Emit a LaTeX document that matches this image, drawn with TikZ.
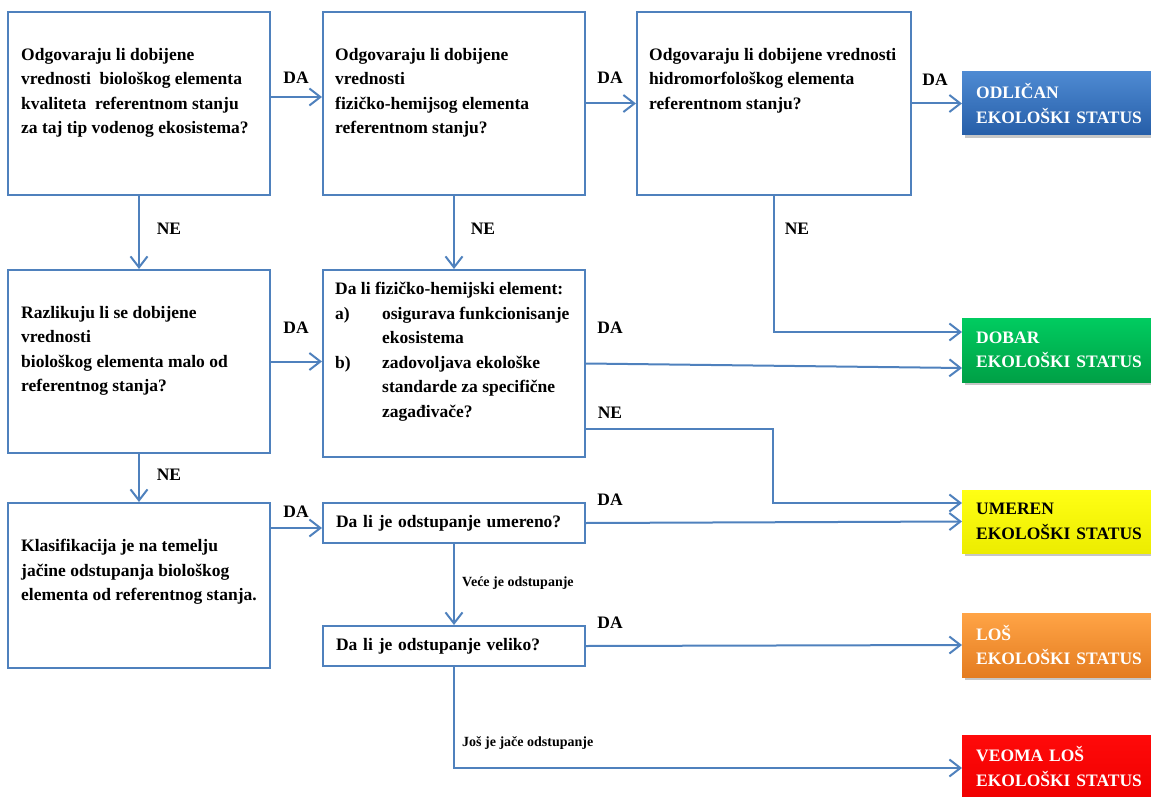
\documentclass[tikz,border=0pt]{standalone}
\usepackage{fontspec}
\setmainfont{Liberation Serif}
\usepackage{tikz}
\usetikzlibrary{arrows.meta, positioning, shadows, calc}
\definecolor{flowblue}{RGB}{79,129,189}
\definecolor{odltop}{RGB}{78,138,210}
\definecolor{odlbot}{RGB}{38,94,168}
\definecolor{dobtop}{RGB}{0,204,96}
\definecolor{dobbot}{RGB}{0,160,70}
\definecolor{umetop}{RGB}{255,255,20}
\definecolor{umebot}{RGB}{236,236,0}
\definecolor{lostop}{RGB}{255,164,70}
\definecolor{losbot}{RGB}{228,124,32}
\definecolor{veotop}{RGB}{255,10,10}
\definecolor{veobot}{RGB}{240,0,0}
\newcommand{\flowfont}{\fontsize{17.5}{24.5}\selectfont\bfseries}
\newcommand{\smallflow}{\fontsize{14}{17}\selectfont\bfseries}

\begin{document}
\begin{tikzpicture}[x=1pt, y=-1pt,
    qbox/.style={draw=flowblue, line width=2pt, rectangle, inner sep=0pt},
    qtext/.style={anchor=north west, align=left, inner sep=0pt, font=\flowfont},
    qline/.style={qbox, text width=236pt, inner xsep=13pt, align=left, font=\flowfont},
    status/.style={anchor=west, minimum width=200pt, minimum height=63pt, text width=172pt,
        inner xsep=14pt, align=left, text=white, font=\flowfont,
        drop shadow={shadow xshift=3pt, shadow yshift=-3pt, opacity=0.45}},
    answer/.style={font=\flowfont, inner sep=0pt},
    branch/.style={font=\smallflow, inner sep=0pt, anchor=west},
    arrow/.style={-{Straight Barb[length=11pt, width=17pt]}, draw=flowblue, line width=2pt}
]
\useasboundingbox (0,0) rectangle (1151,797);
\clip (0,0) rectangle (1151,797);

\node[qbox, minimum width=262pt, minimum height=183pt] (odgbio) at (139,103.5) {};
\node[qbox, minimum width=262pt, minimum height=183pt] (odgfiz) at (454,103.5) {};
\node[qbox, minimum width=274pt, minimum height=183pt] (odghidro) at (774,103.5) {};
\node[qbox, minimum width=262pt, minimum height=183pt] (razlbio) at (139,361.5) {};
\node[qbox, minimum width=262pt, minimum height=187pt] (fizhem) at (454,363.5) {};
\node[qbox, minimum width=262pt, minimum height=165pt] (klasif) at (139,585.5) {};
\node[qline, minimum height=40pt] (umereno) at (454,523) {Da li je odstupanje umereno?};
\node[qline, minimum height=40pt] (veliko) at (454,646) {Da li je odstupanje veliko?};

\node[qtext] (odgbiotxt) at ([shift={(14,37)}]odgbio.north west) {Odgovaraju li dobijene\\vrednosti\ \ biološkog elementa\\kvaliteta\ \ referentnom stanju\\za taj tip vodenog ekosistema?};
\node[qtext] (odgfiztxt) at ([shift={(13,37)}]odgfiz.north west) {Odgovaraju li dobijene\\vrednosti\\fizičko-hemijsog elementa\\referentnom stanju?};
\node[qtext] (odghidrotxt) at ([shift={(13,37)}]odghidro.north west) {Odgovaraju li dobijene vrednosti\\hidromorfološkog elementa\\referentnom stanju?};
\node[qtext] (razlbiotxt) at ([shift={(14,37)}]razlbio.north west) {Razlikuju li se dobijene\\vrednosti\\biološkog elementa malo od\\referentnog stanja?};
\node[qtext] (fizhemtxt) at ([shift={(13,13)}]fizhem.north west) {Da li fizičko-hemijski element:\\\makebox[47pt][l]{a)}osigurava funkcionisanje\\\hspace*{47pt}ekosistema\\\makebox[47pt][l]{b)}zadovoljava ekološke\\\hspace*{47pt}standarde za specifične\\\hspace*{47pt}zagađivače?};
\node[qtext] (klasiftxt) at ([shift={(14,37)}]klasif.north west) {Klasifikacija je na temelju\\jačine odstupanja biološkog\\elementa od referentnog stanja.};

\node[status, top color=odltop, bottom color=odlbot] (odlican) at (962,103.5) {ODLIČAN\\EKOLOŠKI STATUS};
\node[status, top color=dobtop, bottom color=dobbot, minimum height=64pt] (dobar) at (962,350) {DOBAR\\EKOLOŠKI STATUS};
\node[status, top color=umetop, bottom color=umebot, text=black] (umeren) at (962,521.5) {UMEREN\\EKOLOŠKI STATUS};
\node[status, top color=lostop, bottom color=losbot, minimum height=64pt] (los) at (962,645) {LOŠ\\EKOLOŠKI STATUS};
\node[status, top color=veotop, bottom color=veobot] (veomalos) at (962,766.5) {VEOMA LOŠ\\EKOLOŠKI STATUS};

\draw[arrow] ([yshift=6.5pt]odgbio.east) coordinate (da1) -- (da1 -| odgfiz.west);
\draw[arrow] (odgfiz.east) -- (odgfiz.east -| odghidro.west);
\draw[arrow] (odghidro.east) -- (odghidro.east -| odlican.west);
\draw[arrow] (odgbio.south) -- (razlbio.north);
\draw[arrow] (odgfiz.south) -- (fizhem.north);
\draw[arrow] (odghidro.south) |- ([yshift=18pt]dobar.west);
\draw[arrow] (razlbio.east) -- (razlbio.east -| fizhem.west);
\draw[arrow] (fizhem.east) -- ([yshift=-18pt]dobar.west);
\draw[arrow] ([yshift=-65.5pt]fizhem.east) -| ([xshift=-189pt,yshift=18.5pt]umeren.west) -- ([yshift=18.5pt]umeren.west);
\draw[arrow] (razlbio.south) -- (klasif.north);
\draw[arrow] ([yshift=57.5pt]klasif.east) coordinate (da2) -- (da2 -| umereno.west);
\draw[arrow] (umereno.east) -- (umeren.west);
\draw[arrow] (umereno.south) -- (veliko.north);
\draw[arrow] (veliko.east) -- (los.west);
\draw[arrow] (veliko.south) |- ([yshift=-1.5pt]veomalos.west);

\node[answer] (da12) at (296,78) {DA};
\node[answer] (da23) at (610,78) {DA};
\node[answer] (da3o) at (935,80) {DA};
\node[answer] (ne14) at (169,229) {NE};
\node[answer] (ne25) at (483,229) {NE};
\node[answer] (ne3d) at (797,229) {NE};
\node[answer] (da45) at (296,328) {DA};
\node[answer] (da5d) at (610,328) {DA};
\node[answer] (ne5u) at (610,413) {NE};
\node[answer] (ne46) at (169,475) {NE};
\node[answer] (da67) at (296,512) {DA};
\node[answer] (da7u) at (610,500) {DA};
\node[answer] (da8l) at (610,623) {DA};
\node[branch] (vece) at (462,583) {Veće je odstupanje};
\node[branch] (jace) at (462,743) {Još je jače odstupanje};
\end{tikzpicture}
\end{document}
